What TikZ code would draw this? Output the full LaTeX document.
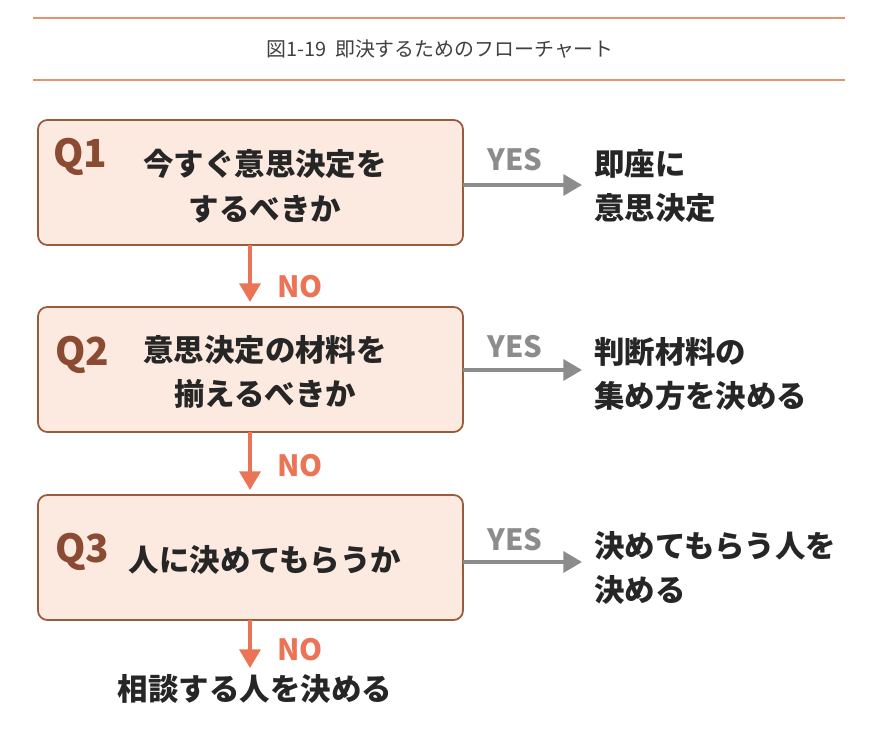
\documentclass[tikz,border=0pt]{standalone}
\usepackage{fontspec}
\setmainfont{Noto Sans CJK JP}
\usetikzlibrary{positioning}
\definecolor{rule}{HTML}{E8906F}
\definecolor{boxfill}{HTML}{FCEAE0}
\definecolor{boxline}{HTML}{9A5A3C}
\definecolor{qcol}{HTML}{8B4A32}
\definecolor{yescol}{HTML}{8C8C8C}
\definecolor{nocol}{HTML}{EC7456}
\tikzset{
  qbox/.style={draw=boxline,fill=boxfill,line width=1.5pt,rounded corners=8pt},
  qlab/.style={font=\fontsize{33}{36}\selectfont\bfseries,text=qcol},
  txt/.style={font=\fontsize{26}{38}\selectfont\bfseries,text=black!85,align=center},
  rtxt/.style={font=\fontsize{26}{38}\selectfont\bfseries,text=black!85,align=left,anchor=west},
  yesarr/.style={draw=yescol,line width=3pt,-{Triangle[length=16pt,width=18pt]}},
  noarr/.style={draw=nocol,line width=3pt,-{Triangle[length=16pt,width=18pt]}},
  yeslab/.style={font=\fontsize{25}{28}\selectfont\bfseries,text=yescol},
  nolab/.style={font=\fontsize{25}{28}\selectfont\bfseries,text=nocol}
}
\usetikzlibrary{arrows.meta}
\begin{document}
\begin{tikzpicture}[x=0.03cm,y=-0.03cm]
	\useasboundingbox (0,0) rectangle (870,737);
	% title
	\draw[rule,line width=1.5pt] (33,18) -- (845,18);
	\draw[rule,line width=1.5pt] (33,80) -- (845,80);
	\node[font=\fontsize{17}{20}\selectfont,text=black!75] (title) at (440,49) {図1-19\ \ 即決するためのフローチャート};
	% boxes
	\draw[qbox] (38,120) rectangle (463,245);
	\draw[qbox] (38,307) rectangle (463,432);
	\draw[qbox] (38,495) rectangle (463,620);
	\node[qlab] (q1) at (80,157) {Q1};
	\node[qlab] (q2) at (82,355) {Q2};
	\node[qlab] (q3) at (82,552) {Q3};
	\node[txt] (t1) at (265,186) {今すぐ意思決定を\\するべきか};
	\node[txt] (t2) at (265,372) {意思決定の材料を\\揃えるべきか};
	\node[txt] (t3) at (265,560) {人に決めてもらうか};
	% yes branches
	\coordinate (y1a) at (463,185); \coordinate (y1b) at (582,185);
	\coordinate (y2a) at (463,370); \coordinate (y2b) at (582,370);
	\coordinate (y3a) at (463,562); \coordinate (y3b) at (582,562);
	\draw[yesarr] (y1a) -- (y1b);
	\draw[yesarr] (y2a) -- (y2b);
	\draw[yesarr] (y3a) -- (y3b);
	\node[yeslab] (yes1) at (515,160) {YES};
	\node[yeslab] (yes2) at (515,347) {YES};
	\node[yeslab] (yes3) at (515,540) {YES};
	\node[rtxt] (r1) at (590,186) {即座に\\意思決定};
	\node[rtxt] (r2) at (590,374) {判断材料の\\集め方を決める};
	\node[rtxt] (r3) at (590,568) {決めてもらう人を\\決める};
	% no branches
	\coordinate (n1a) at (250,245); \coordinate (n1b) at (250,302);
	\coordinate (n2a) at (250,432); \coordinate (n2b) at (250,490);
	\coordinate (n3a) at (250,620); \coordinate (n3b) at (250,668);
	\draw[noarr] (n1a) -- (n1b);
	\draw[noarr] (n2a) -- (n2b);
	\draw[noarr] (n3a) -- (n3b);
	\node[nolab] (no1) at (300,287) {NO};
	\node[nolab] (no2) at (300,466) {NO};
	\node[nolab] (no3) at (300,650) {NO};
	\node[txt] (last) at (255,689) {相談する人を決める};
\end{tikzpicture}
\end{document}
